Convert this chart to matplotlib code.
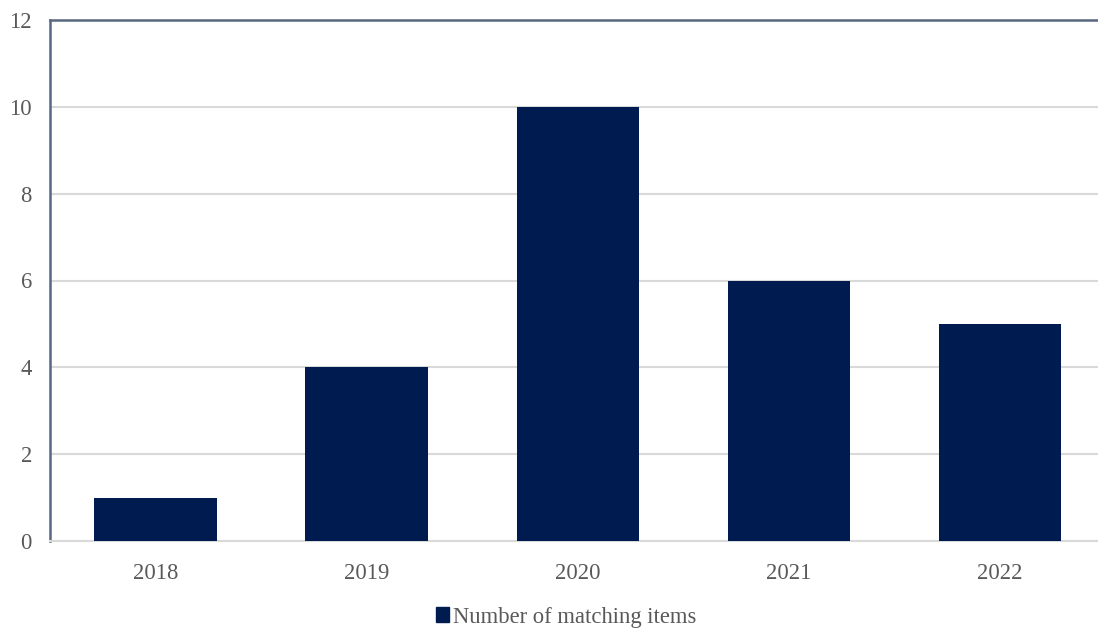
import matplotlib
matplotlib.use("Agg")
import matplotlib.pyplot as plt
from matplotlib.patches import Patch

years = ["2018", "2019", "2020", "2021", "2022"]
counts = [1, 4, 10, 6, 5]
series_name = "Number of matching items"
yticks = [0, 2, 4, 6, 8, 10, 12]

plt.rcParams['font.family'] = ['Liberation Serif', 'DejaVu Serif']

W, H = 1098, 629
fig = plt.figure(figsize=(W/100, H/100), dpi=100)
left, right, top, bottom = 50, 1105.5, 20, 541
ax = fig.add_axes([left/W, (H-bottom)/H, (right-left)/W, (bottom-top)/H])

bar_color = "#001b50"
x = list(range(len(years)))
ax.bar(x, counts, width=0.58, color=bar_color, zorder=3)

ax.set_xlim(-0.5, len(years)-0.5)
ax.set_ylim(0, 12)
ax.set_yticks(yticks)
ax.set_xticks(x)
ax.set_xticklabels(years)
ax.grid(axis='y', color='#d9d9d9', linewidth=1.5, zorder=0)
ax.tick_params(axis='both', length=0, labelsize=16.3, colors='#595959')
ax.tick_params(axis='x', pad=16)
ax.tick_params(axis='y', pad=13)

for s in ['right']:
    ax.spines[s].set_visible(False)
ax.spines['bottom'].set_color('#d9d9d9')
ax.spines['bottom'].set_linewidth(1.5)
ax.spines['top'].set_color('#5a6780')
ax.spines['top'].set_linewidth(1.8)
ax.spines['left'].set_color('#5a6780')
ax.spines['left'].set_linewidth(1.8)

handle = Patch(facecolor=bar_color, edgecolor=bar_color)
fig.legend([handle], [series_name], loc='center', bbox_to_anchor=(566/W, (H-617)/H),
           frameon=False, fontsize=16.3, handlelength=0.6, handleheight=0.6,
           handletextpad=0.15, labelcolor='#595959')

fig.savefig("out.png", dpi=100)
